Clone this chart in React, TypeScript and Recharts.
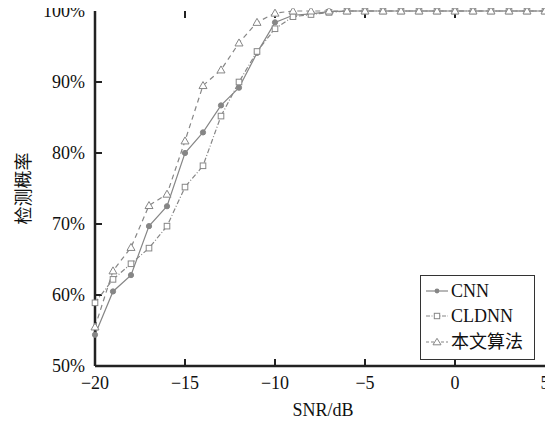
import React from "react";
import { LineChart, Line, XAxis, YAxis, Legend, ReferenceLine } from "recharts";

const snr = [-20, -19, -18, -17, -16, -15, -14, -13, -12, -11, -10, -9, -8, -7, -6, -5, -4, -3, -2, -1, 0, 1, 2, 3, 4, 5];
const cnn = [54.4, 60.5, 62.8, 69.7, 72.5, 80.0, 82.9, 86.7, 89.2, 94.1, 98.4, 99.4, 99.6, 99.9, 100, 100, 100, 100, 100, 100, 100, 100, 100, 100, 100, 100];
const cldnn = [58.9, 62.2, 64.4, 66.6, 69.7, 75.2, 78.2, 85.2, 90.0, 94.3, 97.5, 99.2, 99.5, 99.8, 100, 100, 100, 100, 100, 100, 100, 100, 100, 100, 100, 100];
const ours = [55.5, 63.4, 66.7, 72.6, 74.2, 81.7, 89.5, 91.7, 95.5, 98.4, 99.7, 100, 100, 100, 100, 100, 100, 100, 100, 100, 100, 100, 100, 100, 100, 100];
const xTicks = [-20, -15, -10, -5, 0, 5];
const yTicks = [50, 60, 70, 80, 90, 100];
const seriesNames = ["CNN", "CLDNN", "本文算法"];

const data = snr.map((s, i) => ({ snr: s, cnn: cnn[i], cldnn: cldnn[i], ours: ours[i] }));

const X_MIN = xTicks[0];
const X_MAX = xTicks[xTicks.length - 1];
const Y_MIN = yTicks[0];
const Y_MAX = yTicks[yTicks.length - 1];
// inward tick lengths in data units (about 7 px)
const X_TICK_LEN = ((X_MAX - X_MIN) / 450) * 7;
const Y_TICK_LEN = ((Y_MAX - Y_MIN) / 355) * 7;

const GRAY = "#868686";
const FONT = "'Liberation Serif', 'Times New Roman', 'Noto Sans CJK SC', serif";
const CJK = "'Noto Sans CJK SC', 'Liberation Serif', serif";

const fmtX = (v: number) => String(v).replace("-", "\u2212");
const fmtY = (v: number) => `${v}%`;

const CircleDot = (props: any) => {
  const { cx, cy, index } = props;
  return <circle key={`c${index}`} cx={cx} cy={cy} r={2.6} fill={GRAY} stroke={GRAY} />;
};
const SquareDot = (props: any) => {
  const { cx, cy, index } = props;
  return <rect key={`s${index}`} x={cx - 2.8} y={cy - 2.8} width={5.6} height={5.6} fill="#fff" stroke={GRAY} strokeWidth={1} />;
};
const TriDot = (props: any) => {
  const { cx, cy, index } = props;
  const s = 4;
  return (
    <polygon
      key={`t${index}`}
      points={`${cx},${cy - s} ${cx - s},${cy + s * 0.75} ${cx + s},${cy + s * 0.75}`}
      fill="#fff"
      stroke={GRAY}
      strokeWidth={1}
    />
  );
};

const YLabel = (props: any) => {
  const vb = props.viewBox || {};
  const cy = (vb.y ?? 0) + (vb.height ?? 0) / 2;
  const cx = 22;
  return (
    <text x={cx} y={cy} transform={`rotate(-90 ${cx} ${cy})`} textAnchor="middle" dominantBaseline="central" fontFamily={CJK} fontSize={18} fill="#111">
      检测概率
    </text>
  );
};

const LegendIcon = ({ kind }: { kind: number }) => {
  const dash = kind === 0 ? undefined : kind === 1 ? "4 1.5 1 1.5" : "3 2";
  return (
    <svg width={24} height={12} style={{ display: "block" }}>
      <line x1={1} y1={6} x2={23} y2={6} stroke={GRAY} strokeWidth={1.2} strokeDasharray={dash} />
      {kind === 0 && <circle cx={12} cy={6} r={2.4} fill={GRAY} />}
      {kind === 1 && <rect x={9.3} y={3.3} width={5.4} height={5.4} fill="#fff" stroke={GRAY} />}
      {kind === 2 && <polygon points="12,2.3 8,8.8 16,8.8" fill="#fff" stroke={GRAY} />}
    </svg>
  );
};

const LegendBox = () => (
  <div style={{ border: "1.5px solid #333", background: "#fff", width: 113, height: 81, boxSizing: "content-box", paddingTop: 2, fontFamily: FONT, fontSize: 18, color: "#111" }}>
    {seriesNames.map((n, i) => (
      <div key={n} style={{ display: "flex", alignItems: "center", height: 25.5, paddingLeft: 4 }}>
        <LegendIcon kind={i} />
        <span style={{ marginLeft: 2, lineHeight: "18px" }}>{n}</span>
      </div>
    ))}
  </div>
);

const axisLine = { stroke: "#222", strokeWidth: 2.5 };
const tickText = { fontFamily: FONT, fontSize: 18, fill: "#111" };
const TICK_STROKE = "#222";

export default function App() {
  const innerX = xTicks.slice(1, -1);
  const innerY = yTicks.slice(1, -1);
  return (
    <div style={{ width: 553, height: 426, marginTop: -8, marginLeft: -8, background: "#fff" }}>
      <LineChart width={553} height={426} data={data} margin={{ top: 11, right: 8, left: 0, bottom: 0 }}>
        <XAxis
          dataKey="snr"
          type="number"
          domain={[X_MIN, X_MAX]}
          ticks={xTicks}
          interval={0}
          height={60}
          tickLine={false}
          tickSize={0}
          tickMargin={10}
          axisLine={axisLine}
          tick={tickText}
          tickFormatter={fmtX}
          label={{ value: "SNR/dB", position: "insideBottom", offset: 10, dx: 3, fontFamily: FONT, fontSize: 18, fill: "#111" }}
        />
        <XAxis xAxisId="top" orientation="top" dataKey="snr" type="number" domain={[X_MIN, X_MAX]} ticks={xTicks} height={0} tickLine={false} tick={false} axisLine={axisLine} />
        <YAxis
          type="number"
          domain={[Y_MIN, Y_MAX]}
          ticks={yTicks}
          interval={0}
          width={95}
          tickLine={false}
          tickSize={0}
          tickMargin={10}
          axisLine={axisLine}
          tick={tickText}
          tickFormatter={fmtY}
          label={<YLabel />}
        />
        <YAxis yAxisId="right" orientation="right" type="number" domain={[Y_MIN, Y_MAX]} width={0} tick={false} tickLine={false} axisLine={axisLine} />
        {innerX.map((t) => (
          <ReferenceLine key={`bx${t}`} segment={[{ x: t, y: Y_MIN }, { x: t, y: Y_MIN + Y_TICK_LEN }]} stroke={TICK_STROKE} strokeWidth={2} ifOverflow="visible" />
        ))}
        {innerX.map((t) => (
          <ReferenceLine key={`tx${t}`} segment={[{ x: t, y: Y_MAX }, { x: t, y: Y_MAX - Y_TICK_LEN }]} stroke={TICK_STROKE} strokeWidth={2} ifOverflow="visible" />
        ))}
        {innerY.map((t) => (
          <ReferenceLine key={`ly${t}`} segment={[{ x: X_MIN, y: t }, { x: X_MIN + X_TICK_LEN, y: t }]} stroke={TICK_STROKE} strokeWidth={2} ifOverflow="visible" />
        ))}
        <Line dataKey="cnn" stroke={GRAY} strokeWidth={1.2} dot={<CircleDot />} isAnimationActive={false} />
        <Line dataKey="cldnn" stroke={GRAY} strokeWidth={1.2} strokeDasharray="5 2 1 2" dot={<SquareDot />} isAnimationActive={false} />
        <Line dataKey="ours" stroke={GRAY} strokeWidth={1.2} strokeDasharray="5 4" dot={<TriDot />} isAnimationActive={false} />
        <Legend layout="vertical" align="center" verticalAlign="middle" content={<LegendBox />} wrapperStyle={{ position: "absolute", left: 420, top: 275, width: 117, height: 84 }} />
      </LineChart>
    </div>
  );
}
